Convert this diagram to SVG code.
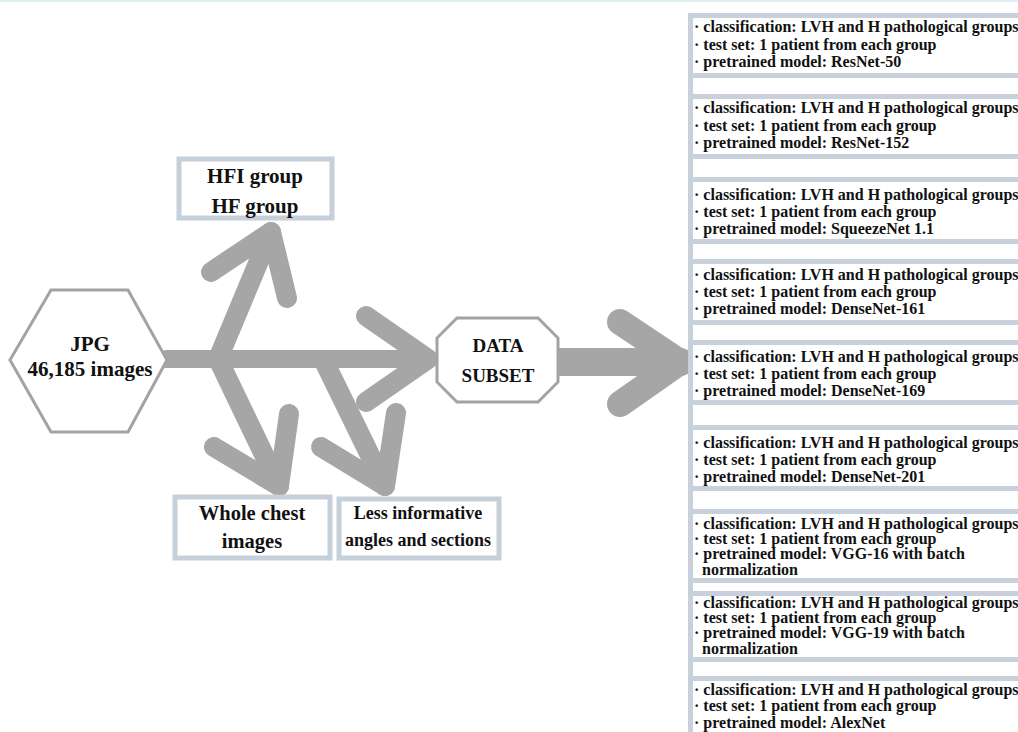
<svg xmlns="http://www.w3.org/2000/svg" width="1018" height="732" viewBox="0 0 1018 732">
<style>
.t{font-family:"Liberation Serif","Times New Roman",serif;font-weight:bold;fill:#111}
.pt{font-size:16px}
.c{text-anchor:middle}
.arr{fill:none;stroke:#a6a6a6;stroke-linecap:round;stroke-linejoin:round}
.box{fill:#fff;stroke:#c6d0da;stroke-width:5}
.shape{fill:#fff;stroke:#a3a3a3;stroke-width:3}
.wb{fill:#fff}
</style>
<rect x="0" y="0" width="1018" height="732" fill="#fff"/>
<rect x="0" y="0" width="1018" height="2" fill="#dfeef0"/>
<g id="connectors">
<line class="arr" x1="166" y1="359" x2="426" y2="359" stroke-width="18"/>
<polyline class="arr" points="366,316 428,359 366,402" stroke-width="20"/>
<line class="arr" x1="218" y1="359" x2="271" y2="232" stroke-width="20"/>
<polyline class="arr" points="211,272 271,232 287,298" stroke-width="20"/>
<line class="arr" x1="218" y1="359" x2="279" y2="486" stroke-width="20"/>
<polyline class="arr" points="214,447 279,486 289,414" stroke-width="20"/>
<line class="arr" x1="324" y1="361" x2="385" y2="486" stroke-width="20"/>
<polyline class="arr" points="321,447 385,486 396,413" stroke-width="20"/>
<line class="arr" x1="556" y1="362" x2="680" y2="362" stroke-width="28"/>
<polyline class="arr" points="620,322 680,362 620,404" stroke-width="26"/>
</g>
<g id="jpg">
<polygon class="shape" points="10,360 51,290 128,290 167,360 128,432 51,432"/>
<text class="t c" x="90" y="351" font-size="21">JPG</text>
<text class="t c" x="90" y="376" font-size="21">46,185 images</text>
</g>
<g id="hfi">
<rect class="box" x="179" y="159" width="153" height="59"/>
<text class="t c" x="255" y="183" font-size="21">HFI group</text>
<text class="t c" x="255" y="213" font-size="21">HF group</text>
</g>
<g id="whole">
<rect class="box" x="175" y="497" width="155" height="61"/>
<text class="t c" x="252" y="520" font-size="20.5">Whole chest</text>
<text class="t c" x="252" y="548" font-size="20.5">images</text>
</g>
<g id="less">
<rect class="box" x="339" y="499" width="160" height="59"/>
<text class="t c" x="418" y="519" font-size="18">Less informative</text>
<text class="t c" x="418" y="546" font-size="18">angles and sections</text>
</g>
<g id="subset">
<polygon class="shape" points="457,318 538,318 558,338 558,382 538,402 457,402 437,382 437,338"/>
<text class="t c" x="498" y="352" font-size="19">DATA</text>
<text class="t c" x="498" y="382" font-size="19">SUBSET</text>
</g>
<g id="panel">
<rect x="688" y="13" width="330" height="719" fill="#c8d1db"/>
<rect class="wb" x="693" y="18" width="325" height="55"/>
<rect class="wb" x="693" y="78" width="325" height="16"/>
<rect class="wb" x="693" y="99" width="325" height="55"/>
<rect class="wb" x="693" y="159" width="325" height="18"/>
<rect class="wb" x="693" y="182" width="325" height="57"/>
<rect class="wb" x="693" y="244" width="325" height="15"/>
<rect class="wb" x="693" y="264" width="325" height="56"/>
<rect class="wb" x="693" y="325" width="325" height="15"/>
<rect class="wb" x="693" y="345" width="325" height="55"/>
<rect class="wb" x="693" y="405" width="325" height="20"/>
<rect class="wb" x="693" y="430" width="325" height="56"/>
<rect class="wb" x="693" y="491" width="325" height="18"/>
<rect class="wb" x="693" y="514" width="325" height="64"/>
<rect class="wb" x="693" y="583" width="325" height="8"/>
<rect class="wb" x="693" y="596" width="325" height="61"/>
<rect class="wb" x="693" y="662" width="325" height="14"/>
<rect class="wb" x="693" y="681" width="325" height="51"/>
</g>
<g id="m1" class="t pt">
<text x="694" y="32">· classification: LVH and H pathological groups</text>
<text x="694" y="50">· test set: 1 patient from each group</text>
<text x="694" y="67">· pretrained model: ResNet-50</text>
</g>
<g id="m2" class="t pt">
<text x="694" y="113">· classification: LVH and H pathological groups</text>
<text x="694" y="131">· test set: 1 patient from each group</text>
<text x="694" y="148">· pretrained model: ResNet-152</text>
</g>
<g id="m3" class="t pt">
<text x="694" y="200">· classification: LVH and H pathological groups</text>
<text x="694" y="217">· test set: 1 patient from each group</text>
<text x="694" y="234">· pretrained model: SqueezeNet 1.1</text>
</g>
<g id="m4" class="t pt">
<text x="694" y="280">· classification: LVH and H pathological groups</text>
<text x="694" y="297">· test set: 1 patient from each group</text>
<text x="694" y="314">· pretrained model: DenseNet-161</text>
</g>
<g id="m5" class="t pt">
<text x="694" y="362">· classification: LVH and H pathological groups</text>
<text x="694" y="379">· test set: 1 patient from each group</text>
<text x="694" y="396">· pretrained model: DenseNet-169</text>
</g>
<g id="m6" class="t pt">
<text x="694" y="448">· classification: LVH and H pathological groups</text>
<text x="694" y="465">· test set: 1 patient from each group</text>
<text x="694" y="482">· pretrained model: DenseNet-201</text>
</g>
<g id="m7" class="t pt">
<text x="694" y="529">· classification: LVH and H pathological groups</text>
<text x="694" y="544">· test set: 1 patient from each group</text>
<text x="694" y="559">· pretrained model: VGG-16 with batch</text>
<text x="702" y="575">normalization</text>
</g>
<g id="m8" class="t pt">
<text x="694" y="608">· classification: LVH and H pathological groups</text>
<text x="694" y="623">· test set: 1 patient from each group</text>
<text x="694" y="638">· pretrained model: VGG-19 with batch</text>
<text x="702" y="654">normalization</text>
</g>
<g id="m9" class="t pt">
<text x="694" y="695">· classification: LVH and H pathological groups</text>
<text x="694" y="711">· test set: 1 patient from each group</text>
<text x="694" y="728">· pretrained model: AlexNet</text>
</g>
</svg>
